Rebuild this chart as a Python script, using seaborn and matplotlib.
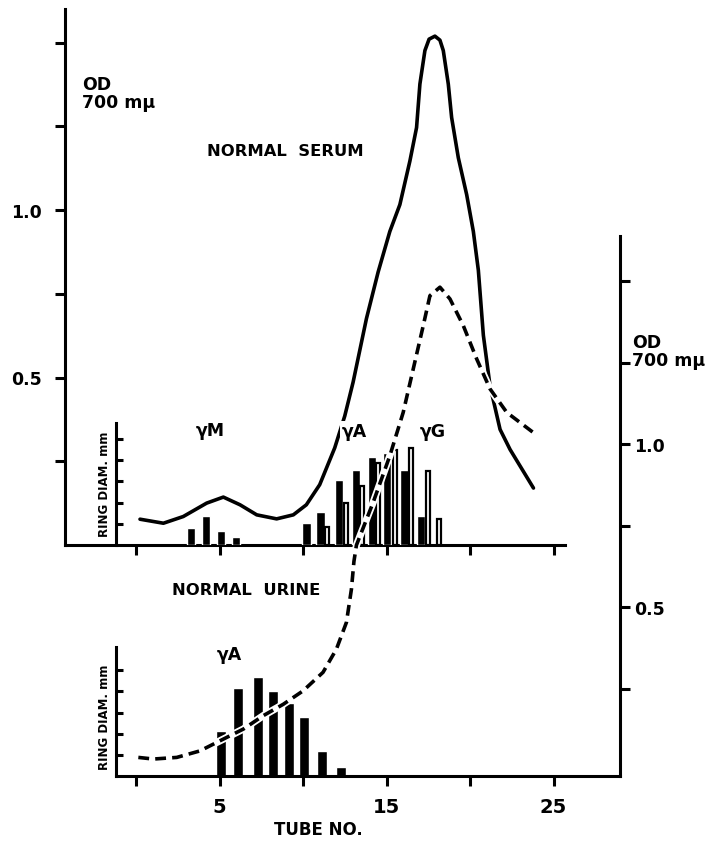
import seaborn as sns
import matplotlib.pyplot as plt

# serum OD (solid line, left axis)
serum_tube = [0.24, 1.64, 2.83, 4.23, 5.23, 6.23, 7.23, 8.42, 9.42, 10.2, 11.0, 11.9,
              12.5, 13.0, 13.8, 14.5, 15.2, 15.8, 16.4, 16.8, 17.0, 17.3, 17.55, 17.9,
              18.2, 18.4, 18.7, 18.9, 19.3, 19.8, 20.2, 20.5, 20.8, 21.2, 21.8, 22.4, 23.8]
serum_od = [0.077, 0.065, 0.085, 0.125, 0.143, 0.12, 0.09, 0.078, 0.09, 0.12, 0.18, 0.29,
            0.385, 0.486, 0.676, 0.815, 0.936, 1.016, 1.146, 1.246, 1.376, 1.476, 1.51, 1.519,
            1.507, 1.476, 1.376, 1.276, 1.156, 1.046, 0.936, 0.82, 0.626, 0.475, 0.345, 0.285, 0.17]

# urine OD (dashed line, right axis)
urine_tube = [0.14, 1.04, 2.44, 3.83, 5.03, 6.43, 7.62, 8.82, 10.0, 11.2, 12.0, 12.6, 12.9,
              13.05, 13.2, 14.2, 15.2, 16.0, 16.6, 17.2, 17.6, 18.2, 18.8, 19.6, 20.4, 21.2,
              22.2, 23.9]
urine_od = [0.039, 0.034, 0.039, 0.059, 0.09, 0.126, 0.167, 0.202, 0.243, 0.30, 0.371, 0.453,
            0.555, 0.64, 0.69, 0.821, 0.964, 1.097, 1.23, 1.363, 1.455, 1.481, 1.445, 1.363,
            1.261, 1.169, 1.097, 1.031]

# ring diameters (in tick units) for the precipitin bars
serum_m_tube = [3.29, 4.19, 5.09, 5.96]
serum_m_ring = [0.79, 1.37, 0.66, 0.39]
serum_a_tube = [10.20, 11.04, 12.17, 13.16, 14.12, 15.04, 16.08, 17.08]
serum_a_ring = [1.04, 1.54, 3.04, 3.55, 4.15, 4.35, 3.52, 1.39]
serum_g_tube = [11.41, 12.57, 13.56, 14.49, 15.48, 16.44, 17.46, 18.13]
serum_g_ring = [0.85, 2.0, 2.77, 3.85, 4.46, 4.58, 3.48, 1.23]
urine_a_tube = [5.11, 6.09, 7.32, 8.22, 9.16, 10.04, 11.16, 12.25]
urine_a_ring = [2.14, 4.16, 4.68, 4.02, 3.46, 2.78, 1.16, 0.43]

od_ticks = [0.25, 0.5, 0.75, 1.0, 1.25, 1.5]
od_labels = ['', '0.5', '', '1.0', '', '']
tube_ticks = [0, 5, 10, 15, 20, 25]
tube_labels = ['', '5', '', '15', '', '25']

sns.set_style("ticks")
plt.rcParams['font.family'] = ['DejaVu Sans']
plt.rcParams['font.weight'] = 'bold'
for key in ['text.color', 'axes.edgecolor', 'axes.labelcolor', 'xtick.color', 'ytick.color']:
    plt.rcParams[key] = 'black'

W, H = 712, 845
fig = plt.figure(figsize=(W / 100, H / 100), dpi=100)


def rect(left, right, top, bottom):
    return [left / W, 1 - bottom / H, (right - left) / W, (bottom - top) / H]


def tube_at(px):
    return (px - 136) / 16.7


LW = 2.2
FS = 12.5

# serum panel, left OD axis
ax_s = fig.add_axes(rect(65, 565, 10, 546), zorder=1)
sns.lineplot(x=serum_tube, y=serum_od, ax=ax_s, color='black', lw=2.6)
ax_s.set_xlim(tube_at(65), tube_at(565))
ax_s.set_ylim(0, 1.6)
ax_s.set_yticks(od_ticks, labels=od_labels)
ax_s.set_xticks(tube_ticks, labels=[])
ax_s.tick_params(direction='out', length=7, width=LW, labelsize=FS, pad=10)
for side in ['top', 'right']:
    ax_s.spines[side].set_visible(False)
for side in ['left', 'bottom']:
    ax_s.spines[side].set_linewidth(LW)

# ring diameter inset, serum
ax_rs = fig.add_axes(rect(116, 565, 424, 546), zorder=2)
ax_rs.patch.set_visible(False)
ax_rs.bar(serum_m_tube, serum_m_ring, width=0.48, color='black')
ax_rs.bar(serum_a_tube, serum_a_ring, width=0.5, color='black')
ax_rs.bar(serum_g_tube, serum_g_ring, width=0.24, color='white', edgecolor='black', lw=1.6)
ax_rs.set_xlim(tube_at(116), tube_at(565))
ax_rs.set_ylim(0, 5.75)

# urine panel, right OD axis
ax_u = fig.add_axes(rect(116, 620, 237, 777), zorder=4)
ax_u.patch.set_visible(False)
sns.lineplot(x=urine_tube, y=urine_od, ax=ax_u, color='white', lw=5.2)
sns.lineplot(x=urine_tube, y=urine_od, ax=ax_u, color='black', lw=2.6,
             linestyle=(0, (3.0, 1.7)))
ax_u.set_xlim(tube_at(116), tube_at(620))
ax_u.set_ylim(-0.018, 1.638)
ax_u.yaxis.tick_right()
ax_u.set_yticks(od_ticks, labels=od_labels)
ax_u.set_xticks(tube_ticks, labels=tube_labels)
ax_u.tick_params(direction='out', length=7, width=LW, labelsize=FS)
ax_u.tick_params(axis='y', pad=3)
ax_u.tick_params(axis='x', pad=8, labelsize=14)
for side in ['top', 'left']:
    ax_u.spines[side].set_visible(False)
for side in ['right', 'bottom']:
    ax_u.spines[side].set_linewidth(LW)

# ring diameter inset, urine
ax_ru = fig.add_axes(rect(116, 620, 648, 777), zorder=3)
ax_ru.patch.set_visible(False)
ax_ru.bar(urine_a_tube, urine_a_ring, width=0.6, color='black')
ax_ru.set_xlim(tube_at(116), tube_at(620))
ax_ru.set_ylim(0, 6.1)

for ax in [ax_rs, ax_ru]:
    for side in ['top', 'right', 'bottom']:
        ax.spines[side].set_visible(False)
    ax.spines['left'].set_linewidth(LW)
    ax.set_xticks([])
    ax.set_yticks([1, 2, 3, 4, 5], labels=[])
    ax.tick_params(axis='y', direction='in', length=5, width=LW)


def label(x, y, s, size=FS, **kw):
    fig.text(x / W, 1 - y / H, s, fontsize=size, fontweight='bold', zorder=10,
             ha=kw.pop('ha', 'center'), va=kw.pop('va', 'center'), **kw)


label(82, 94, 'OD\n700 mμ', ha='left', linespacing=1.05)
label(632, 352, 'OD\n700 mμ', ha='left', linespacing=1.0)
label(285, 152, 'NORMAL  SERUM', size=11.8)
label(246, 591, 'NORMAL  URINE', size=11.8)
label(210, 431, 'γM')
label(354, 432, 'γA', bbox=dict(facecolor='white', edgecolor='none', pad=1))
label(433, 432, 'γG')
label(229, 655, 'γA')
label(105, 484, 'RING DIAM. mm', size=8.5, rotation=90)
label(105, 717, 'RING DIAM. mm', size=8.5, rotation=90)
label(318, 830, 'TUBE NO.', size=12)

fig.savefig('out.png', dpi=100, facecolor='white')
